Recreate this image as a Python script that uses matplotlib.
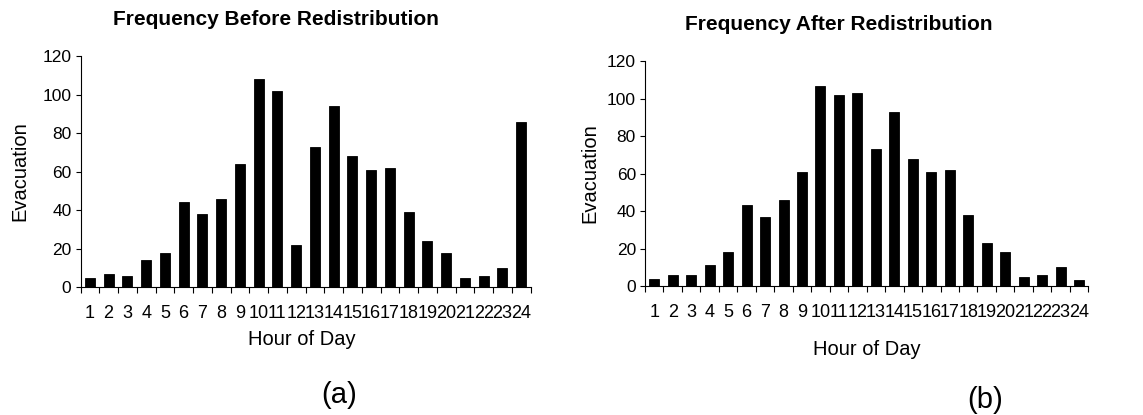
import numpy as np
import matplotlib
matplotlib.use("Agg")
import matplotlib.pyplot as plt
from matplotlib.ticker import FixedLocator, NullFormatter

plt.rcParams['font.family'] = ['Liberation Sans', 'DejaVu Sans']

hours = [str(h) for h in range(1, 25)]
before = [5, 7, 6, 14, 18, 44, 38, 46, 64, 108, 102, 22,
          73, 94, 68, 61, 62, 39, 24, 18, 5, 6, 10, 86]
after = [4, 6, 6, 11, 18, 43, 37, 46, 61, 107, 102, 103,
         73, 93, 68, 61, 62, 38, 23, 18, 5, 6, 10, 3]
y_ticks = [0, 20, 40, 60, 80, 100, 120]

W, H = 1143, 415
fig = plt.figure(figsize=(W / 100, H / 100), dpi=100)


def px(x0, y_top, x1, y_bot):
    return [x0 / W, 1 - y_bot / H, (x1 - x0) / W, (y_bot - y_top) / H]


def draw(ax, values, width):
    x = np.arange(len(hours))
    ax.bar(x, values, width=width, color='black', edgecolor='black', linewidth=0.6)
    ax.set_xlim(-0.5, len(hours) - 0.5)
    ax.set_ylim(0, 120)
    ax.set_yticks(y_ticks)
    ax.set_yticklabels([str(v) for v in y_ticks], fontsize=12.5)
    # category boundaries carry the tick marks, labels sit in between
    ax.xaxis.set_major_locator(FixedLocator(np.arange(len(hours) + 1) - 0.5))
    ax.xaxis.set_major_formatter(NullFormatter())
    ax.xaxis.set_minor_locator(FixedLocator(x))
    ax.set_xticklabels(hours, minor=True, fontsize=13)
    ax.tick_params(axis='x', which='major', direction='out', length=4.5, width=0.8)
    ax.tick_params(axis='x', which='minor', length=0, pad=13)
    ax.tick_params(axis='y', direction='out', length=3.5, width=0.8, pad=3)
    for s in ('top', 'right'):
        ax.spines[s].set_visible(False)
    for s in ('left', 'bottom'):
        ax.spines[s].set_linewidth(0.8)
        ax.spines[s].set_color('black')


ax1 = fig.add_axes(px(80.5, 56, 530.5, 287.3))
draw(ax1, before, 0.53)
ax2 = fig.add_axes(px(645, 61.3, 1088.3, 286))
draw(ax2, after, 0.54)

# titles
fig.text(276 / W, 1 - 25 / H, 'Frequency Before Redistribution', ha='center',
         va='baseline', fontsize=15, fontweight='bold')
fig.text(839 / W, 1 - 30 / H, 'Frequency After Redistribution', ha='center',
         va='baseline', fontsize=15, fontweight='bold')

# axis titles
fig.text(19.5 / W, 1 - 171 / H, 'Evacuation', rotation=90, ha='center', va='center', fontsize=14.5)
fig.text(589.5 / W, 1 - 173 / H, 'Evacuation', rotation=90, ha='center', va='center', fontsize=14.5)
fig.text(302 / W, 1 - 339 / H, 'Hour of Day', ha='center', va='center', fontsize=14.5)
fig.text(867 / W, 1 - 349 / H, 'Hour of Day', ha='center', va='center', fontsize=14.5)

# panel letters
fig.text(339 / W, 1 - 395 / H, '(a)', ha='center', va='center', fontsize=21)
fig.text(985 / W, 1 - 400 / H, '(b)', ha='center', va='center', fontsize=21)

fig.savefig('out.png', dpi=100)
